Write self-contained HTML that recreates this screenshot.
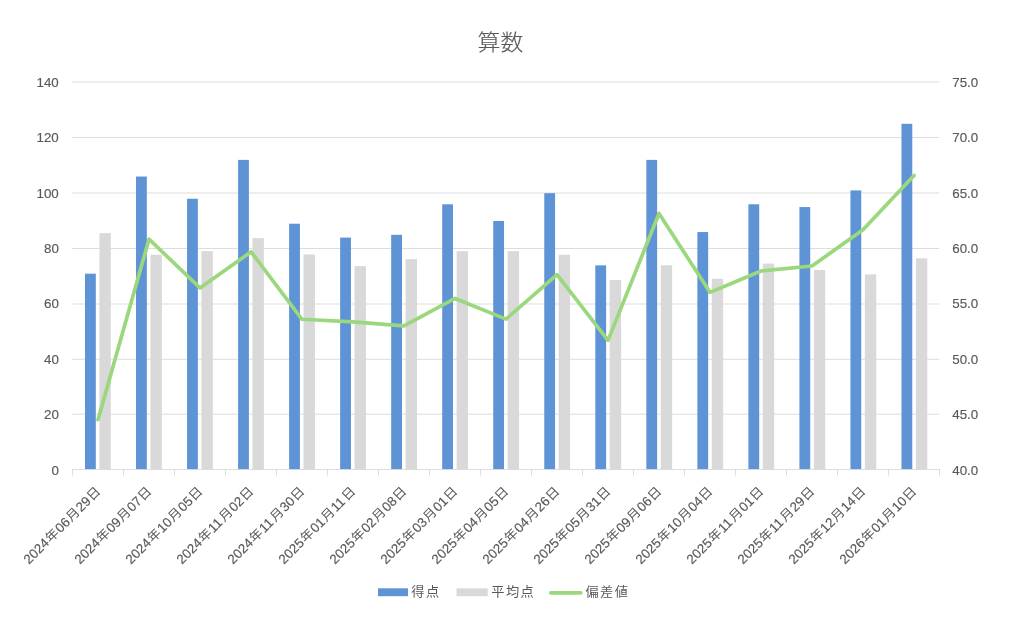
<!DOCTYPE html>
<html lang="ja">
<head>
<meta charset="utf-8">
<title>算数</title>
<style>
html,body{margin:0;padding:0;background:#fff;}
body{width:1024px;height:625px;overflow:hidden;}
svg{display:block;}
text{font-family:"Liberation Sans","Noto Sans CJK JP",sans-serif;fill:#595959;stroke:#595959;stroke-width:0.15px;}
.ax{font-size:13.33px;}
.k{font-size:13.20px;font-weight:400;stroke:none;}
.ttl{font-size:22.4px;font-weight:300;letter-spacing:0.2px;}
</style>
</head>
<body>
<svg xmlns="http://www.w3.org/2000/svg" width="1024" height="625" viewBox="0 0 1024 625">
<rect width="1024" height="625" fill="#fff"/>
<g stroke="#D9D9D9" stroke-width="0.9" fill="none">
<line x1="72.0" y1="414.20" x2="939.3" y2="414.20"/>
<line x1="72.0" y1="359.30" x2="939.3" y2="359.30"/>
<line x1="72.0" y1="304.00" x2="939.3" y2="304.00"/>
<line x1="72.0" y1="248.50" x2="939.3" y2="248.50"/>
<line x1="72.0" y1="193.00" x2="939.3" y2="193.00"/>
<line x1="72.0" y1="137.50" x2="939.3" y2="137.50"/>
<line x1="72.0" y1="82.00" x2="939.3" y2="82.00"/>
</g>
<g fill="#5E93D5">
<rect x="85.00" y="273.68" width="10.80" height="195.82"/>
<rect x="136.03" y="176.55" width="10.80" height="292.95"/>
<rect x="187.06" y="198.75" width="10.80" height="270.75"/>
<rect x="238.09" y="159.90" width="10.80" height="309.60"/>
<rect x="289.12" y="223.72" width="10.80" height="245.78"/>
<rect x="340.15" y="237.60" width="10.80" height="231.90"/>
<rect x="391.18" y="234.82" width="10.80" height="234.68"/>
<rect x="442.21" y="204.30" width="10.80" height="265.20"/>
<rect x="493.24" y="220.95" width="10.80" height="248.55"/>
<rect x="544.27" y="193.20" width="10.80" height="276.30"/>
<rect x="595.30" y="265.35" width="10.80" height="204.15"/>
<rect x="646.33" y="159.90" width="10.80" height="309.60"/>
<rect x="697.36" y="232.05" width="10.80" height="237.45"/>
<rect x="748.39" y="204.30" width="10.80" height="265.20"/>
<rect x="799.42" y="207.07" width="10.80" height="262.43"/>
<rect x="850.45" y="190.42" width="10.80" height="279.08"/>
<rect x="901.48" y="123.83" width="10.80" height="345.68"/>
</g>
<g fill="#D9D9D9">
<rect x="99.40" y="233.15" width="11.40" height="236.35"/>
<rect x="150.43" y="254.74" width="11.40" height="214.76"/>
<rect x="201.46" y="251.14" width="11.40" height="218.36"/>
<rect x="252.49" y="238.13" width="11.40" height="231.37"/>
<rect x="303.52" y="254.46" width="11.40" height="215.04"/>
<rect x="354.55" y="266.09" width="11.40" height="203.41"/>
<rect x="405.58" y="259.17" width="11.40" height="210.33"/>
<rect x="456.61" y="251.14" width="11.40" height="218.36"/>
<rect x="507.64" y="251.14" width="11.40" height="218.36"/>
<rect x="558.67" y="254.74" width="11.40" height="214.76"/>
<rect x="609.70" y="279.93" width="11.40" height="189.57"/>
<rect x="660.73" y="265.26" width="11.40" height="204.24"/>
<rect x="711.76" y="278.82" width="11.40" height="190.68"/>
<rect x="762.79" y="263.59" width="11.40" height="205.91"/>
<rect x="813.82" y="269.96" width="11.40" height="199.54"/>
<rect x="864.85" y="274.39" width="11.40" height="195.11"/>
<rect x="915.88" y="258.34" width="11.40" height="211.16"/>
</g>
<g stroke="#D9D9D9" stroke-width="0.9" fill="none">
<line x1="72.0" y1="469.50" x2="940.0" y2="469.50"/>
<line x1="72.50" y1="469.50" x2="72.50" y2="475.50"/>
<line x1="123.50" y1="469.50" x2="123.50" y2="475.50"/>
<line x1="174.50" y1="469.50" x2="174.50" y2="475.50"/>
<line x1="225.50" y1="469.50" x2="225.50" y2="475.50"/>
<line x1="276.50" y1="469.50" x2="276.50" y2="475.50"/>
<line x1="327.50" y1="469.50" x2="327.50" y2="475.50"/>
<line x1="378.50" y1="469.50" x2="378.50" y2="475.50"/>
<line x1="429.50" y1="469.50" x2="429.50" y2="475.50"/>
<line x1="480.50" y1="469.50" x2="480.50" y2="475.50"/>
<line x1="531.50" y1="469.50" x2="531.50" y2="475.50"/>
<line x1="582.50" y1="469.50" x2="582.50" y2="475.50"/>
<line x1="633.50" y1="469.50" x2="633.50" y2="475.50"/>
<line x1="684.50" y1="469.50" x2="684.50" y2="475.50"/>
<line x1="735.50" y1="469.50" x2="735.50" y2="475.50"/>
<line x1="786.50" y1="469.50" x2="786.50" y2="475.50"/>
<line x1="837.50" y1="469.50" x2="837.50" y2="475.50"/>
<line x1="888.50" y1="469.50" x2="888.50" y2="475.50"/>
<line x1="939.50" y1="469.50" x2="939.50" y2="475.50"/>
</g>
<polyline points="98.00,419.68 149.00,239.21 200.00,287.93 251.00,251.84 302.00,319.26 353.00,321.92 404.00,325.79 455.00,298.45 506.00,319.15 557.00,274.64 608.00,340.41 659.00,213.53 710.00,292.36 761.00,270.99 812.00,266.01 863.00,229.80 914.00,175.44" fill="none" stroke="#9BD77C" stroke-width="3.7" stroke-linejoin="round" stroke-linecap="round"/>
<g class="ax" text-anchor="end">
<text x="58.8" y="474.70">0</text>
<text x="58.8" y="419.26">20</text>
<text x="58.8" y="363.82">40</text>
<text x="58.8" y="308.38">60</text>
<text x="58.8" y="252.94">80</text>
<text x="58.8" y="197.50">100</text>
<text x="58.8" y="142.06">120</text>
<text x="58.8" y="86.62">140</text>
</g>
<g class="ax">
<text x="952.3" y="474.70">40.0</text>
<text x="952.3" y="419.26">45.0</text>
<text x="952.3" y="363.82">50.0</text>
<text x="952.3" y="308.38">55.0</text>
<text x="952.3" y="252.94">60.0</text>
<text x="952.3" y="197.50">65.0</text>
<text x="952.3" y="142.06">70.0</text>
<text x="952.3" y="86.62">75.0</text>
</g>
<g>
<g transform="translate(101.50 492.30) rotate(-45)"><text class="ax"><tspan x="-102.41">2024</tspan><tspan x="-58.15">06</tspan><tspan x="-28.73">29</tspan></text><text class="k" transform="translate(0 -0.10) scale(1 0.97)"><tspan x="-72.05">年</tspan><tspan x="-42.63">月</tspan><tspan x="-13.20">日</tspan></text></g>
<g transform="translate(152.50 492.30) rotate(-45)"><text class="ax"><tspan x="-102.41">2024</tspan><tspan x="-58.15">09</tspan><tspan x="-28.73">07</tspan></text><text class="k" transform="translate(0 -0.10) scale(1 0.97)"><tspan x="-72.05">年</tspan><tspan x="-42.63">月</tspan><tspan x="-13.20">日</tspan></text></g>
<g transform="translate(203.50 492.30) rotate(-45)"><text class="ax"><tspan x="-102.41">2024</tspan><tspan x="-58.15">10</tspan><tspan x="-28.73">05</tspan></text><text class="k" transform="translate(0 -0.10) scale(1 0.97)"><tspan x="-72.05">年</tspan><tspan x="-42.63">月</tspan><tspan x="-13.20">日</tspan></text></g>
<g transform="translate(254.50 492.30) rotate(-45)"><text class="ax"><tspan x="-102.41">2024</tspan><tspan x="-58.15">11</tspan><tspan x="-28.73">02</tspan></text><text class="k" transform="translate(0 -0.10) scale(1 0.97)"><tspan x="-72.05">年</tspan><tspan x="-42.63">月</tspan><tspan x="-13.20">日</tspan></text></g>
<g transform="translate(305.50 492.30) rotate(-45)"><text class="ax"><tspan x="-102.41">2024</tspan><tspan x="-58.15">11</tspan><tspan x="-28.73">30</tspan></text><text class="k" transform="translate(0 -0.10) scale(1 0.97)"><tspan x="-72.05">年</tspan><tspan x="-42.63">月</tspan><tspan x="-13.20">日</tspan></text></g>
<g transform="translate(356.50 492.30) rotate(-45)"><text class="ax"><tspan x="-102.41">2025</tspan><tspan x="-58.15">01</tspan><tspan x="-28.73">11</tspan></text><text class="k" transform="translate(0 -0.10) scale(1 0.97)"><tspan x="-72.05">年</tspan><tspan x="-42.63">月</tspan><tspan x="-13.20">日</tspan></text></g>
<g transform="translate(407.50 492.30) rotate(-45)"><text class="ax"><tspan x="-102.41">2025</tspan><tspan x="-58.15">02</tspan><tspan x="-28.73">08</tspan></text><text class="k" transform="translate(0 -0.10) scale(1 0.97)"><tspan x="-72.05">年</tspan><tspan x="-42.63">月</tspan><tspan x="-13.20">日</tspan></text></g>
<g transform="translate(458.50 492.30) rotate(-45)"><text class="ax"><tspan x="-102.41">2025</tspan><tspan x="-58.15">03</tspan><tspan x="-28.73">01</tspan></text><text class="k" transform="translate(0 -0.10) scale(1 0.97)"><tspan x="-72.05">年</tspan><tspan x="-42.63">月</tspan><tspan x="-13.20">日</tspan></text></g>
<g transform="translate(509.50 492.30) rotate(-45)"><text class="ax"><tspan x="-102.41">2025</tspan><tspan x="-58.15">04</tspan><tspan x="-28.73">05</tspan></text><text class="k" transform="translate(0 -0.10) scale(1 0.97)"><tspan x="-72.05">年</tspan><tspan x="-42.63">月</tspan><tspan x="-13.20">日</tspan></text></g>
<g transform="translate(560.50 492.30) rotate(-45)"><text class="ax"><tspan x="-102.41">2025</tspan><tspan x="-58.15">04</tspan><tspan x="-28.73">26</tspan></text><text class="k" transform="translate(0 -0.10) scale(1 0.97)"><tspan x="-72.05">年</tspan><tspan x="-42.63">月</tspan><tspan x="-13.20">日</tspan></text></g>
<g transform="translate(611.50 492.30) rotate(-45)"><text class="ax"><tspan x="-102.41">2025</tspan><tspan x="-58.15">05</tspan><tspan x="-28.73">31</tspan></text><text class="k" transform="translate(0 -0.10) scale(1 0.97)"><tspan x="-72.05">年</tspan><tspan x="-42.63">月</tspan><tspan x="-13.20">日</tspan></text></g>
<g transform="translate(662.50 492.30) rotate(-45)"><text class="ax"><tspan x="-102.41">2025</tspan><tspan x="-58.15">09</tspan><tspan x="-28.73">06</tspan></text><text class="k" transform="translate(0 -0.10) scale(1 0.97)"><tspan x="-72.05">年</tspan><tspan x="-42.63">月</tspan><tspan x="-13.20">日</tspan></text></g>
<g transform="translate(713.50 492.30) rotate(-45)"><text class="ax"><tspan x="-102.41">2025</tspan><tspan x="-58.15">10</tspan><tspan x="-28.73">04</tspan></text><text class="k" transform="translate(0 -0.10) scale(1 0.97)"><tspan x="-72.05">年</tspan><tspan x="-42.63">月</tspan><tspan x="-13.20">日</tspan></text></g>
<g transform="translate(764.50 492.30) rotate(-45)"><text class="ax"><tspan x="-102.41">2025</tspan><tspan x="-58.15">11</tspan><tspan x="-28.73">01</tspan></text><text class="k" transform="translate(0 -0.10) scale(1 0.97)"><tspan x="-72.05">年</tspan><tspan x="-42.63">月</tspan><tspan x="-13.20">日</tspan></text></g>
<g transform="translate(815.50 492.30) rotate(-45)"><text class="ax"><tspan x="-102.41">2025</tspan><tspan x="-58.15">11</tspan><tspan x="-28.73">29</tspan></text><text class="k" transform="translate(0 -0.10) scale(1 0.97)"><tspan x="-72.05">年</tspan><tspan x="-42.63">月</tspan><tspan x="-13.20">日</tspan></text></g>
<g transform="translate(866.50 492.30) rotate(-45)"><text class="ax"><tspan x="-102.41">2025</tspan><tspan x="-58.15">12</tspan><tspan x="-28.73">14</tspan></text><text class="k" transform="translate(0 -0.10) scale(1 0.97)"><tspan x="-72.05">年</tspan><tspan x="-42.63">月</tspan><tspan x="-13.20">日</tspan></text></g>
<g transform="translate(917.50 492.30) rotate(-45)"><text class="ax"><tspan x="-102.41">2026</tspan><tspan x="-58.15">01</tspan><tspan x="-28.73">10</tspan></text><text class="k" transform="translate(0 -0.10) scale(1 0.97)"><tspan x="-72.05">年</tspan><tspan x="-42.63">月</tspan><tspan x="-13.20">日</tspan></text></g>
</g>
<text class="ttl" transform="translate(500.5 50.2) scale(1.02 0.95)" text-anchor="middle">算数</text>
<rect x="378" y="588.3" width="30" height="7.9" fill="#5E93D5"/>
<g transform="translate(411.3 596.4)"><text class="k" transform="translate(0 -0.10) scale(1 0.97)"><tspan x="0.00">得</tspan><tspan x="14.60">点</tspan></text></g>
<rect x="456.5" y="588.3" width="31.2" height="7.9" fill="#D9D9D9"/>
<g transform="translate(491.3 596.4)"><text class="k" transform="translate(0 -0.10) scale(1 0.97)"><tspan x="0.00">平</tspan><tspan x="14.60">均</tspan><tspan x="29.20">点</tspan></text></g>
<line x1="550.8" y1="592.8" x2="580.8" y2="592.8" stroke="#9BD77C" stroke-width="3.7" stroke-linecap="round"/>
<g transform="translate(585.5 596.4)"><text class="k" transform="translate(0 -0.10) scale(1 0.97)"><tspan x="0.00">偏</tspan><tspan x="14.60">差</tspan><tspan x="29.20">値</tspan></text></g>
</svg>
</body>
</html>
